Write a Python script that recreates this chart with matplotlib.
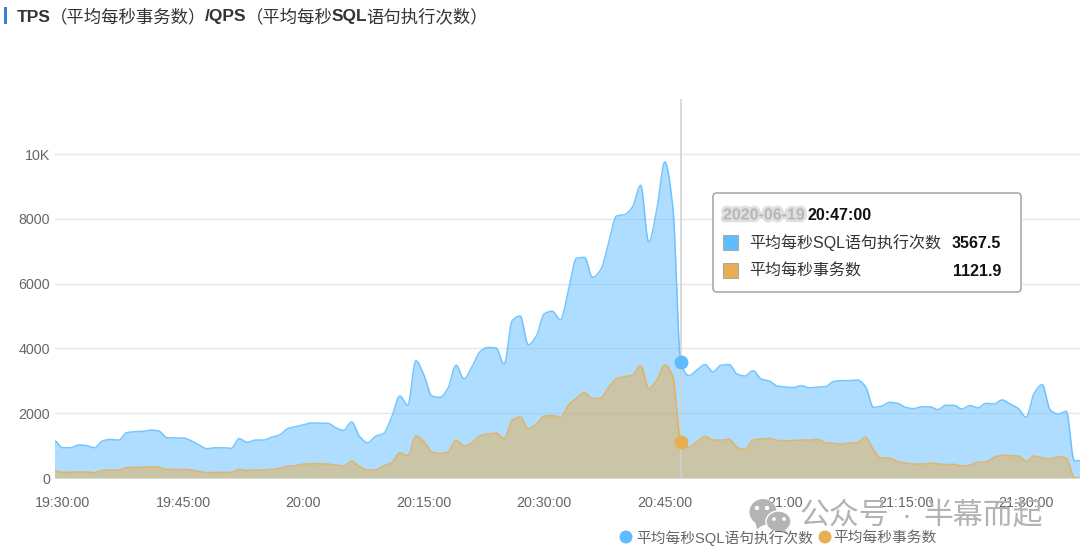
import numpy as np
import matplotlib
matplotlib.use('Agg')
import matplotlib.pyplot as plt
import matplotlib.patheffects as pe
from matplotlib.patches import Ellipse, FancyBboxPatch, Polygon, Rectangle

plt.rcParams['font.family'] = ['Liberation Sans', 'Noto Sans CJK SC']

# Values, one per minute, starting at 19:29.
qps_values = [1150, 935, 935, 1020, 1000, 935, 1150, 1190, 1170, 1400,
              1430, 1440, 1480, 1450, 1245, 1235, 1235, 1150, 1020, 905,
              935, 935, 915, 1215, 1100, 1170, 1170, 1255, 1325, 1520,
              1585, 1640, 1700, 1690, 1690, 1555, 1470, 1730, 1280, 1090,
              1290, 1380, 1890, 2530, 2250, 3620, 3180, 2530, 2490, 2770,
              3480, 3060, 3440, 3900, 4030, 4010, 3510, 4860, 5000, 4110,
              4380, 5070, 5145, 4880, 5800, 6780, 6810, 6195, 6420, 7245,
              8090, 8130, 8375, 9035, 7285, 8270, 9755, 8375, 3567.5, 3160,
              3335, 3500, 3280, 3480, 3500, 3210, 3150, 3310, 3055, 2995,
              2840, 2810, 2790, 2850, 2780, 2810, 2820, 2975, 3005, 3005,
              3025, 2820, 2180, 2220, 2335, 2305, 2180, 2140, 2200, 2200,
              2110, 2245, 2245, 2130, 2235, 2170, 2305, 2285, 2410, 2285,
              2150, 1875, 2615, 2880, 2100, 1975, 2060, 535, 535]
tps_values = [225, 175, 175, 185, 185, 165, 235, 245, 245, 320,
              330, 330, 350, 330, 265, 265, 265, 245, 205, 165,
              175, 175, 175, 265, 235, 245, 245, 265, 300, 360,
              380, 430, 440, 440, 430, 400, 370, 515, 350, 245,
              255, 380, 470, 780, 690, 1295, 1120, 810, 760, 810,
              1170, 990, 1090, 1305, 1360, 1380, 1215, 1790, 1880, 1530,
              1665, 1910, 1930, 1875, 2250, 2460, 2635, 2450, 2470, 2800,
              3065, 3130, 3180, 3470, 2760, 3025, 3490, 3130, 1121.9, 960,
              1120, 1285, 1170, 1170, 1195, 945, 885, 1170, 1205, 1225,
              1160, 1150, 1160, 1170, 1170, 1195, 1090, 1070, 1050, 1080,
              1100, 1255, 865, 617, 617, 505, 463, 432, 432, 453,
              432, 412, 422, 370, 400, 484, 494, 638, 700, 690,
              680, 515, 680, 617, 587, 659, 607, 20, 0]
x_ticks = [0, 15, 30, 45, 60, 75, 90, 105, 120]
x_labels = ['19:30:00', '19:45:00', '20:00', '20:15:00', '20:30:00',
            '20:45:00', '21:00', '21:15:00', '21:30:00']
y_ticks = [0, 2000, 4000, 6000, 8000, 10000]
y_labels = ['0', '2000', '4000', '6000', '8000', '10K']
hover_minute = 77
qps_name = '平均每秒SQL语句执行次数'
tps_name = '平均每秒事务数'

blue = '#5fbdff'
orange = '#e8ae53'
grey = '#666666'


# Smooth line through the points, flat at peaks like the original chart.
def smooth(x, y, n=12):
    x, y = np.asarray(x, float), np.asarray(y, float)
    d = np.diff(y)
    m = np.zeros_like(y)
    for i in range(1, len(y) - 1):
        if d[i - 1] * d[i] > 0:
            m[i] = 2 * d[i - 1] * d[i] / (d[i - 1] + d[i])
    xs, ys = [], []
    for i in range(len(y) - 1):
        t = np.linspace(0, 1, n, endpoint=False)
        ys.append((2*t**3 - 3*t**2 + 1)*y[i] + (t**3 - 2*t**2 + t)*m[i]
                  + (-2*t**3 + 3*t**2)*y[i + 1] + (t**3 - t**2)*m[i + 1])
        xs.append(x[i] + t)
    return np.append(np.concatenate(xs), x[-1]), np.append(np.concatenate(ys), y[-1])


W, H = 1080, 556
fig = plt.figure(figsize=(W / 100, H / 100), dpi=100)

# Plot area in pixels: x 54.5..1080, y 99..478.
ax = fig.add_axes([54.5 / W, 1 - 478 / H, (W - 54.5) / W, 379 / H])
minutes = np.arange(len(qps_values)) - 1
ax.set_xlim(-1, -1 + (W - 54.5) / 8.03)
ax.set_ylim(0, 379 / 0.0324)

for series, color in [(qps_values, blue), (tps_values, orange)]:
    sx, sy = smooth(minutes, series)
    ax.fill_between(sx, 0, sy, color=color, alpha=0.5, lw=0, zorder=2)
    ax.plot(sx, sy, color=color, lw=1.1, alpha=0.85, zorder=3)

ax.axvline(hover_minute, color='#d0d0d0', lw=1.1, zorder=4)
ax.plot([hover_minute], [qps_values[78]], 'o', color=blue, ms=10, mew=0, zorder=5)
ax.plot([hover_minute], [tps_values[78]], 'o', color=orange, ms=10, mew=0, zorder=5)

ax.set_xticks(x_ticks, x_labels)
ax.set_yticks(y_ticks, y_labels)
ax.tick_params(axis='x', length=0, pad=13, labelsize=10.3, labelcolor=grey)
ax.tick_params(axis='y', length=0, pad=3, labelsize=10.3, labelcolor=grey)
ax.grid(axis='y', color='#e6e6e6', lw=1)
ax.set_axisbelow(True)
for s in ax.spines.values():
    s.set_visible(False)

# Overlay in pixel coordinates for title, tooltip, legend and watermark.
ov = fig.add_axes([0, 0, 1, 1], zorder=10)
ov.set_xlim(0, W)
ov.set_ylim(H, 0)
ov.axis('off')

ov.add_patch(Rectangle((4, 7), 3, 17, color='#3b7dd8', lw=0))
title_parts = [('TPS', 'bold'), ('（平均每秒事务数）', 'normal'), ('/QPS', 'bold'),
               ('（平均每秒', 'normal'), ('SQL', 'bold'), ('语句执行次数）', 'normal')]
tx = 17
fig.canvas.draw()
renderer = fig.canvas.get_renderer()
for part, weight in title_parts:
    t = ov.text(tx, 17, part, fontsize=12.5, weight=weight, color='#333333',
                va='center', ha='left')
    tx += t.get_window_extent(renderer).width - 1

# Tooltip
ov.add_patch(FancyBboxPatch((716, 196), 302, 93, boxstyle='round,pad=3,rounding_size=4',
                            fc='white', ec='#aaaaaa', lw=1.2))
ov.text(723, 215, '2020-06-19', fontsize=11.5, weight='bold', color='#aaaaaa', alpha=0.55,
        va='center', ha='left',
        path_effects=[pe.withStroke(linewidth=4, foreground='#bbbbbb', alpha=0.45)])
ov.text(808, 215, '20:47:00', fontsize=11.5, weight='bold', color='#111111', va='center')
for row_y, name, val, color in [(242, qps_name, qps_values[78], blue),
                                (270, tps_name, tps_values[78], orange)]:
    ov.add_patch(Rectangle((723, row_y - 7.5), 15, 15, fc=color, ec='#aaaaaa', lw=0.8))
    ov.text(749, row_y + 1, name, fontsize=11.5, color='#333333', va='center')
    ov.text(1001, row_y + 1, f'{val:.1f}', fontsize=11.5, weight='bold', color='#111111',
            va='center', ha='right')

# Legend
for cx, tx, name, color in [(626, 636, qps_name, blue), (825, 833, tps_name, orange)]:
    ov.add_patch(Ellipse((cx, 537), 13, 13, fc=color, lw=0))
    ov.text(tx, 538, name, fontsize=10.6, color=grey, va='center')

# Watermark
wm = '#b4b4b4'
ov.add_patch(Ellipse((763, 512), 27, 26, fc=wm, lw=0))
ov.add_patch(Polygon([[755, 521], [757, 529], [765, 524]], fc=wm, lw=0))
ov.add_patch(Ellipse((778.5, 521.5), 25, 21, fc=wm, ec='white', lw=1))
ov.add_patch(Polygon([[784, 529], [789, 535], [778, 531]], fc=wm, lw=0))
for dx, dy, r in [(757, 508, 2.2), (767, 508, 2.2), (774, 519, 1.9), (784, 519, 1.9)]:
    ov.add_patch(Ellipse((dx, dy), 2 * r, 2 * r, fc='white', lw=0))
ov.text(799, 516, '公众号', fontsize=21.5, color='#b2b2b2', va='center', ha='left')
ov.text(906, 516, '·', fontsize=21.5, color='#b2b2b2', va='center', ha='center')
ov.text(923, 516, '半幕而起', fontsize=21.5, color='#b2b2b2', va='center', ha='left')

fig.savefig('out.png', dpi=100)
plt.close(fig)
